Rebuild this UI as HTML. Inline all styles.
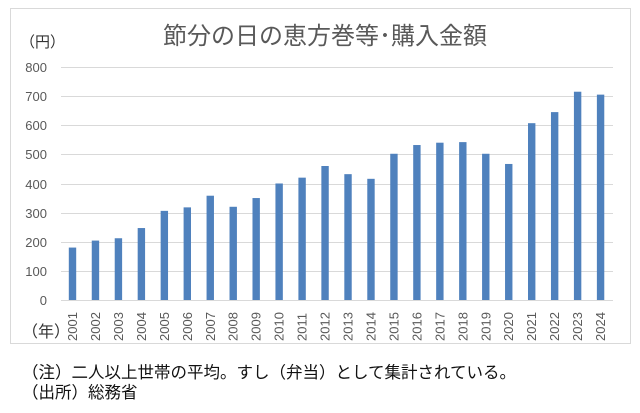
<!DOCTYPE html><html><head><meta charset="utf-8"><style>
body{margin:0;background:#fff;width:640px;height:408px;overflow:hidden;font-family:"Liberation Sans","Noto Sans CJK JP",sans-serif}
</style></head><body>
<svg width="640" height="408" xmlns="http://www.w3.org/2000/svg" font-family="Liberation Sans, Noto Sans CJK JP, sans-serif">
<rect x="10.5" y="8.5" width="620" height="335" fill="#fff" stroke="#d9d9d9"/>
<text x="325" y="44" font-size="24" fill="#595959" text-anchor="middle">節分の日の恵方巻等･購入金額</text>
<text x="20" y="47" font-size="15" fill="#333">（円）</text>
<g stroke="#d9d9d9" stroke-width="1">
<line x1="61" x2="613" y1="67.5" y2="67.5"/><line x1="61" x2="613" y1="96.5" y2="96.5"/><line x1="61" x2="613" y1="125.5" y2="125.5"/><line x1="61" x2="613" y1="154.5" y2="154.5"/><line x1="61" x2="613" y1="184.5" y2="184.5"/><line x1="61" x2="613" y1="213.5" y2="213.5"/><line x1="61" x2="613" y1="242.5" y2="242.5"/><line x1="61" x2="613" y1="271.5" y2="271.5"/><line x1="61" x2="613" y1="300.5" y2="300.5"/>
</g>
<g font-size="13" fill="#595959" text-anchor="end">
<text x="47" y="72">800</text><text x="47" y="101">700</text><text x="47" y="130">600</text><text x="47" y="159">500</text><text x="47" y="189">400</text><text x="47" y="218">300</text><text x="47" y="247">200</text><text x="47" y="276">100</text><text x="47" y="305">0</text>
</g>
<g id="bars" fill="#4f81bd"></g>
<g id="lbl" font-size="13" fill="#595959"></g>
<text x="22" y="337" font-size="16" fill="#333">（年）</text>
<text x="22" y="378" font-size="16.5" fill="#111">（注）二人以上世帯の平均。すし（弁当）として集計されている。</text>
<text x="22" y="398" font-size="16.5" fill="#111">（出所）総務省</text>
</svg>
<script>
var v=[180,204,212,247,306,318,358,320,350,400,420,460,432,416,502,532,540,542,502,467,607,645,715,705];
var b=document.getElementById('bars'),l=document.getElementById('lbl'),ns='http://www.w3.org/2000/svg';
v.forEach(function(d,i){var cx=72.5+i*22.96,h=d*0.2913;
var r=document.createElementNS(ns,'rect');r.setAttribute('x',cx-3.7);r.setAttribute('width',7.4);r.setAttribute('y',300-h);r.setAttribute('height',h);b.appendChild(r);
var t=document.createElementNS(ns,'text');t.setAttribute('transform','translate('+(cx+4.5)+',341) rotate(-90)');t.textContent=2001+i;l.appendChild(t);});
</script>
</body></html>
